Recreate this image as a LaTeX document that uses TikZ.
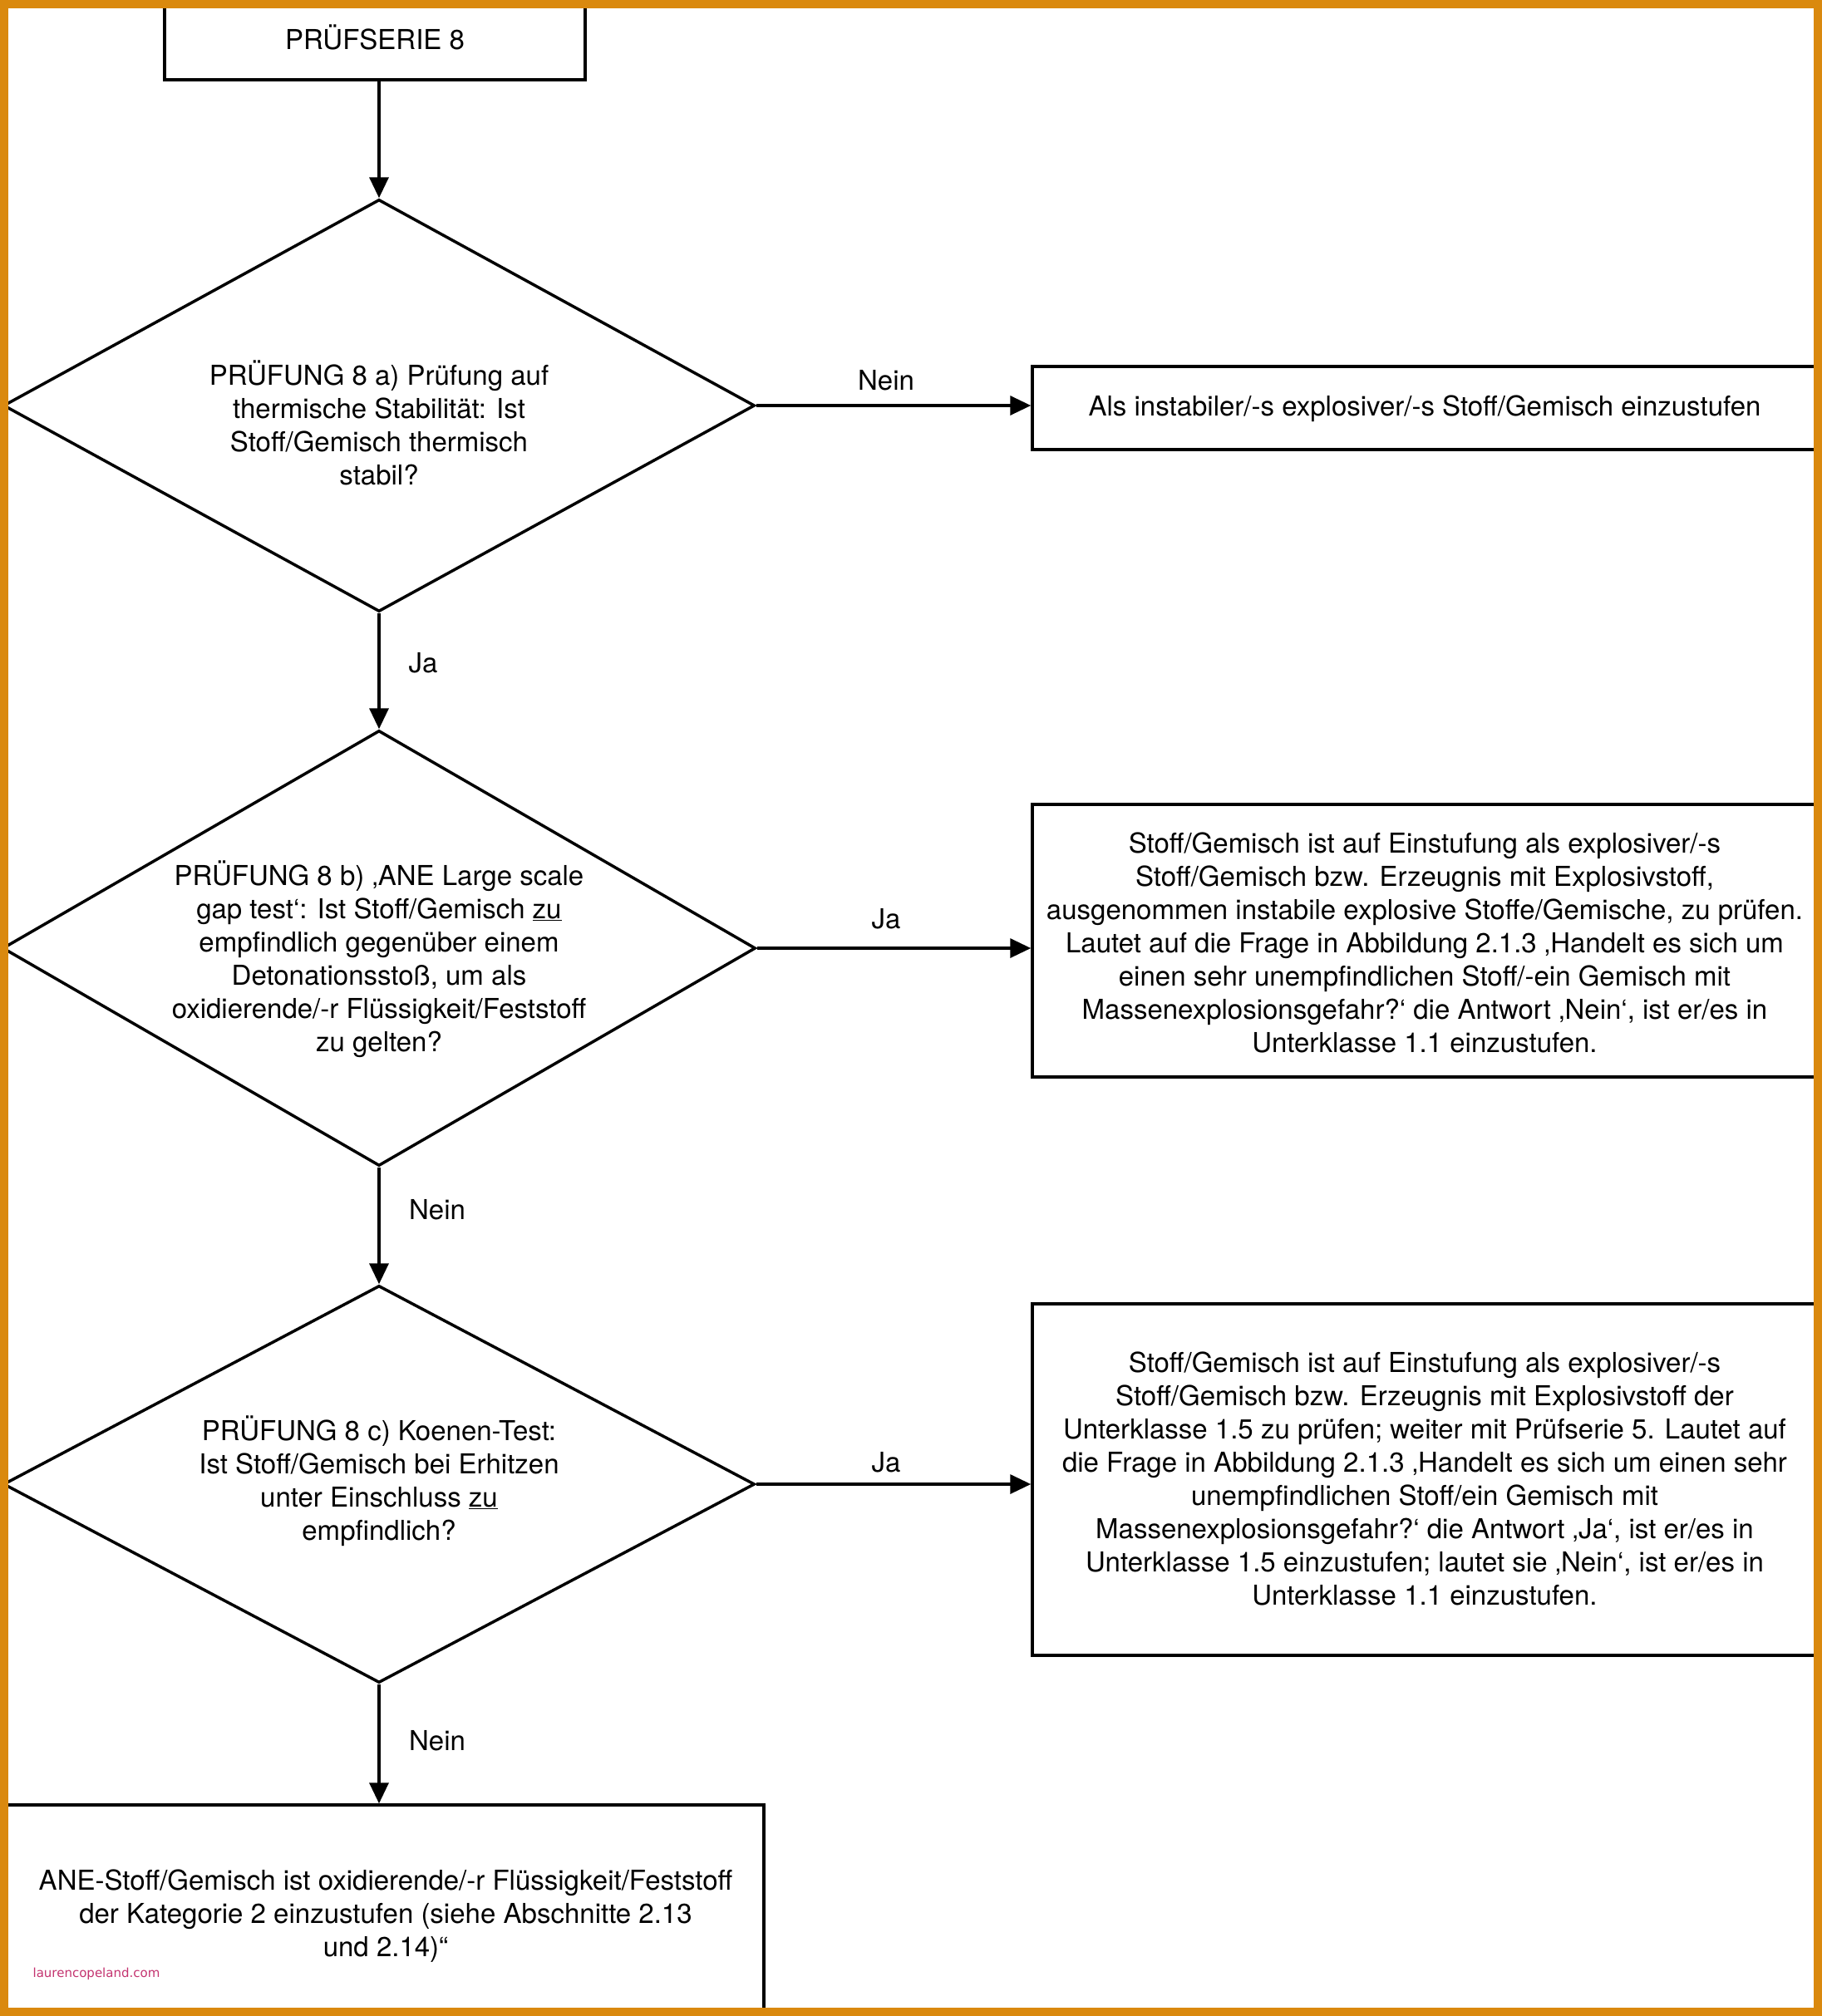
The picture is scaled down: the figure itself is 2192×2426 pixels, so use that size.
\documentclass[tikz,border=0pt]{standalone}
\usepackage{fontspec}
\setmainfont{TeX Gyre Heros}
\newfontfamily\wmfont{DejaVu Sans}
\usetikzlibrary{shapes.geometric,arrows.meta}
\definecolor{frameorange}{RGB}{218,137,14}
\definecolor{wmpink}{RGB}{196,52,112}
\begin{document}
\begin{tikzpicture}[x=1pt,y=-1pt,
  every node/.style={font=\fontsize{33}{40}\selectfont},
  shapebox/.style={draw, line width=3.5pt, rectangle, inner sep=0pt},
  dia/.style={draw, line width=3.5pt, diamond, inner sep=0pt},
  txt/.style={align=center, inner sep=0pt},
  lbl/.style={inner sep=0pt},
  arr/.style={line width=3.5pt, -{Triangle[length=25pt,width=23pt]}}]
\useasboundingbox (0,0) rectangle (2192,2426);
\fill[white] (0,0) rectangle (2192,2426);

% shapes
\node[shapebox, minimum width=506pt, minimum height=106pt] (top) at (451,43) {};
\node[dia, minimum width=904pt, minimum height=496pt] (d1) at (456,488) {};
\node[dia, minimum width=906pt, minimum height=524pt] (d2) at (456,1141) {};
\node[dia, minimum width=904pt, minimum height=478pt] (d3) at (456,1786) {};
\node[shapebox, minimum width=944pt, minimum height=100pt] (b1) at (1714,491) {};
\node[shapebox, minimum width=944pt, minimum height=328pt] (b2) at (1714,1132) {};
\node[shapebox, minimum width=944pt, minimum height=423pt] (b3) at (1714,1780.5) {};
\node[shapebox, minimum width=913pt, minimum height=262pt] (b4) at (462.5,2303) {};

% texts
\node[txt] (ttop) at (451,45) {PRÜFSERIE 8};
\node[txt] (td1) at (456,509) {PRÜFUNG 8 a) Prüfung auf\\thermische Stabilität: Ist\\Stoff/Gemisch thermisch\\stabil?};
\node[txt] (td2) at (456,1154) {PRÜFUNG 8 b) ‚ANE Large scale\\gap test‘: Ist Stoff/Gemisch \underline{zu}\\empfindlich gegenüber einem\\Detonationsstoß, um als\\oxidierende/-r Flüssigkeit/Feststoff\\zu gelten?};
\node[txt] (td3) at (456,1782) {PRÜFUNG 8 c) Koenen-Test:\\Ist Stoff/Gemisch bei Erhitzen\\unter Einschluss \underline{zu}\\empfindlich?};
\node[txt] (tb1) at (1714,492) {Als instabiler/-s explosiver/-s Stoff/Gemisch einzustufen};
\node[txt] (tb2) at (1714,1134) {Stoff/Gemisch ist auf Einstufung als explosiver/-s\\Stoff/Gemisch bzw. Erzeugnis mit Explosivstoff,\\ausgenommen instabile explosive Stoffe/Gemische, zu prüfen.\\Lautet auf die Frage in Abbildung 2.1.3 ‚Handelt es sich um\\einen sehr unempfindlichen Stoff/-ein Gemisch mit\\Massenexplosionsgefahr?‘ die Antwort ‚Nein‘, ist er/es in\\Unterklasse 1.1 einzustufen.};
\node[txt] (tb3) at (1714,1779) {Stoff/Gemisch ist auf Einstufung als explosiver/-s\\Stoff/Gemisch bzw. Erzeugnis mit Explosivstoff der\\Unterklasse 1.5 zu prüfen; weiter mit Prüfserie 5. Lautet auf\\die Frage in Abbildung 2.1.3 ‚Handelt es sich um einen sehr\\unempfindlichen Stoff/ein Gemisch mit\\Massenexplosionsgefahr?‘ die Antwort ‚Ja‘, ist er/es in\\Unterklasse 1.5 einzustufen; lautet sie ‚Nein‘, ist er/es in\\Unterklasse 1.1 einzustufen.};
\node[txt] (tb4) at (464,2306) {ANE-Stoff/Gemisch ist oxidierende/-r Flüssigkeit/Feststoff\\der Kategorie 2 einzustufen (siehe Abschnitte 2.13\\und 2.14)“};

% connectors
\draw[arr] (top.south -| d1.north) -- (d1.north);
\draw[arr] (d1.east) -- (d1.east -| b1.west);
\draw[arr] (d1.south) -- (d2.north);
\draw[arr] (d2.east) -- (d2.east -| b2.west);
\draw[arr] (d2.south) -- (d3.north);
\draw[arr] (d3.east) -- (d3.east -| b3.west);
\draw[arr] (d3.south) -- (d3.south |- b4.north);

% labels
\node[lbl] (l1) at (1066,458) {Nein};
\node[lbl] (l2) at (509,798) {Ja};
\node[lbl] (l3) at (1066,1106) {Ja};
\node[lbl] (l4) at (526,1456) {Nein};
\node[lbl] (l5) at (1066,1760) {Ja};
\node[lbl] (l6) at (526,2095) {Nein};

% watermark
\node[lbl, font=\wmfont\fontsize{15}{17}\selectfont, text=wmpink] (wm) at (116,2375) {laurencopeland.com};

% frame
\draw[frameorange, line width=20pt] (0,0) rectangle (2192,2426);
\end{tikzpicture}
\end{document}
